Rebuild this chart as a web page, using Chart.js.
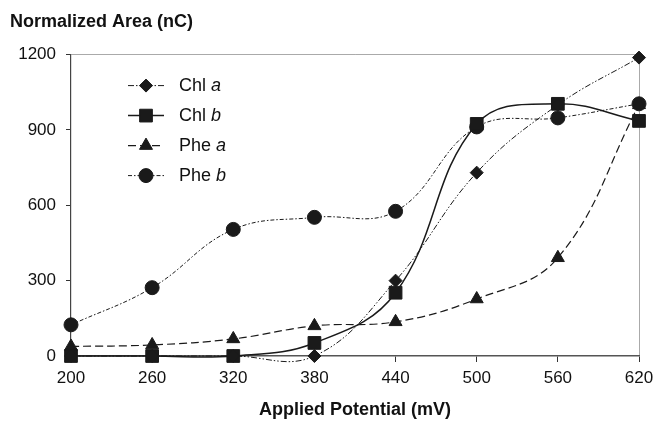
<!DOCTYPE html>
<html>
<head>
<meta charset="utf-8">
<script src="https://cdn.jsdelivr.net/npm/chart.js@4.4.0/dist/chart.umd.min.js"></script>
<style>
  body { margin: 0; background: #fff; }
  #chart { display: block; }
</style>
</head>
<body>
<canvas id="chart" width="655" height="422"></canvas>
<script>
// applied potential (mV) and normalized area (nC)
var potentials = [200, 260, 320, 380, 440, 500, 560, 620];
var chlA = [0, 0, 0, 0, 300, 730, 1000, 1188];
var chlB = [0, 0, 0, 52, 252, 924, 1004, 936];
var pheA = [38, 44, 68, 120, 136, 227, 391, 1000];
var pheB = [124, 272, 504, 552, 576, 912, 948, 1004];
var seriesNames = [["Chl ", "a"], ["Chl ", "b"], ["Phe ", "a"], ["Phe ", "b"]];
var yTicks = [0, 300, 600, 900, 1200];

var FONT = '"Liberation Sans", Arial, Helvetica, sans-serif';
Chart.defaults.font.family = FONT;
Chart.defaults.color = "#111";

function pts(vals) {
  return potentials.map(function (p, i) { return { x: p, y: vals[i] }; });
}

function makeSet(name, vals, style, radius, dash, width) {
  return {
    label: name[0] + name[1],
    data: pts(vals),
    borderColor: "#1a1a1a",
    backgroundColor: "#1a1a1a",
    borderWidth: width,
    borderDash: dash,
    pointStyle: style,
    pointRadius: radius,
    pointBorderWidth: 1,
    pointBackgroundColor: "#1a1a1a",
    pointBorderColor: "#1a1a1a",
    tension: 0.4,
    capBezierPoints: false,
    clip: false
  };
}

// legend drawn inside the plot, line sample with marker in the middle
var insideLegend = {
  id: "insideLegend",
  afterDraw: function (chart) {
    var ctx = chart.ctx;
    var area = chart.chartArea;
    ctx.save();
    chart.data.datasets.forEach(function (ds, i) {
      var x0 = area.left + 57;
      var y = area.top + 31 + i * 30;
      ctx.strokeStyle = ds.borderColor;
      ctx.lineWidth = ds.borderWidth;
      ctx.setLineDash(ds.borderDash);
      ctx.beginPath();
      ctx.moveTo(x0, y);
      ctx.lineTo(x0 + 36, y);
      ctx.stroke();
      ctx.setLineDash([]);
      ctx.fillStyle = ds.pointBackgroundColor;
      ctx.strokeStyle = ds.pointBorderColor;
      ctx.lineWidth = 1;
      Chart.helpers.drawPoint(ctx, {
        pointStyle: ds.pointStyle, radius: ds.pointRadius, rotation: 0, borderWidth: 1
      }, x0 + 18, y);
      ctx.fillStyle = "#111";
      ctx.textBaseline = "middle";
      ctx.textAlign = "left";
      ctx.font = "18px " + FONT;
      var tx = x0 + 51;
      ctx.fillText(seriesNames[i][0], tx, y);
      tx += ctx.measureText(seriesNames[i][0]).width;
      ctx.font = "italic 18px " + FONT;
      ctx.fillText(seriesNames[i][1], tx, y);
    });
    ctx.restore();
  }
};

var chart = new Chart(document.getElementById("chart"), {
  type: "line",
  data: {
    datasets: [
      makeSet(seriesNames[0], chlA, "rectRot", 6.5, [6, 2, 1.5, 2, 1.5, 2], 1),
      makeSet(seriesNames[1], chlB, "rect", 9, [], 1.5),
      makeSet(seriesNames[2], pheA, "triangle", 7.5, [8, 4], 1.2),
      makeSet(seriesNames[3], pheB, "circle", 7, [4, 2, 1.5, 2], 1)
    ]
  },
  options: {
    responsive: false,
    animation: false,
    devicePixelRatio: 1,
    layout: { padding: { left: 10, right: 16, top: 0, bottom: 1 } },
    plugins: {
      legend: { display: false },
      tooltip: { enabled: false },
      title: {
        display: true,
        text: "Normalized Area (nC)",
        align: "start",
        color: "#111",
        font: { size: 18, weight: "bold" },
        padding: { top: 11, bottom: 22 }
      }
    },
    scales: {
      x: {
        type: "linear",
        min: 200,
        max: 620,
        afterFit: function (scale) { scale.paddingLeft = 0; scale.paddingRight = 0; },
        ticks: { stepSize: 60, font: { size: 17 }, padding: 6, color: "#111", maxRotation: 0 },
        grid: {
          color: function (c) { return c.tick && c.tick.value === 620 ? "#aaa" : "rgba(0,0,0,0)"; },
          tickColor: "#333",
          tickLength: 6
        },
        border: { color: "#555", width: 1.5 },
        title: {
          display: true,
          text: "Applied Potential (mV)",
          color: "#111",
          font: { size: 18, weight: "bold" },
          padding: { top: 5, bottom: 0 }
        }
      },
      y: {
        min: 0,
        max: 1200,
        afterBuildTicks: function (scale) {
          scale.ticks = yTicks.map(function (v) { return { value: v }; });
        },
        afterFit: function (scale) { scale.width = 61; },
        ticks: {
          font: { size: 17 }, padding: 10, color: "#111",
          callback: function (v) { return String(v); }
        },
        grid: {
          color: function (c) { return c.tick && c.tick.value === 1200 ? "#aaa" : "rgba(0,0,0,0)"; },
          tickColor: "#333",
          tickLength: 5
        },
        border: { color: "#444", width: 1.2 }
      }
    }
  },
  plugins: [insideLegend]
});
</script>
</body>
</html>
